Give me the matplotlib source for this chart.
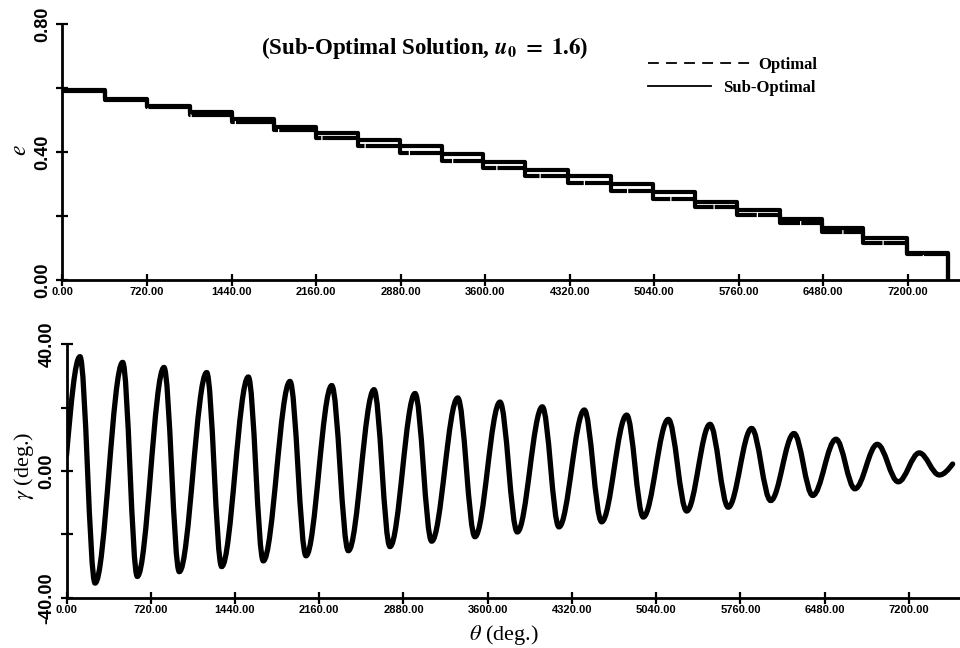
import numpy as np
import matplotlib
matplotlib.use('Agg')
import matplotlib.pyplot as plt
from matplotlib.path import Path
from matplotlib.patches import PathPatch
from matplotlib.lines import Line2D

plt.rcParams['mathtext.fontset'] = 'stix'
plt.rcParams['font.family'] = ['Liberation Serif', 'DejaVu Serif']

# --- e(theta): staircase, both runs switch at the same theta
step_theta = [0, 360, 720, 1085, 1445, 1800, 2160, 2515, 2875, 3230, 3580,
              3940, 4305, 4670, 5030, 5390, 5745, 6110, 6470, 6820, 7195]
theta_end = 7545
e_sub = [0.594, 0.567, 0.545, 0.524, 0.502, 0.478, 0.459, 0.437, 0.419, 0.395,
         0.370, 0.345, 0.324, 0.300, 0.274, 0.245, 0.219, 0.191, 0.163, 0.130, 0.083]
e_opt = [0.592, 0.564, 0.540, 0.516, 0.493, 0.468, 0.444, 0.419, 0.398, 0.373,
         0.350, 0.325, 0.303, 0.279, 0.254, 0.229, 0.204, 0.177, 0.151, 0.117, 0.081]

# --- gamma(theta): start, peaks/troughs, end
gam_theta = [0, 115, 244, 480, 605, 833, 964, 1198, 1326, 1554, 1682, 1910, 2047,
             2267, 2409, 2628, 2765, 2979, 3121, 3344, 3491, 3705, 3853, 4067,
             4209, 4426, 4574, 4788, 4930, 5144, 5301, 5500, 5656, 5856, 6019,
             6218, 6378, 6577, 6739, 6930, 7109, 7289, 7460, 7574]
gam_val = [5.0, 36.0, -35.3, 34.2, -33.2, 32.6, -31.7, 31.0, -30.1, 29.6, -28.3,
           28.2, -26.7, 26.9, -25.1, 25.6, -23.8, 24.4, -22.1, 23.0, -20.7, 21.7,
           -19.2, 20.2, -17.6, 19.2, -16.0, 17.6, -14.5, 16.25, -12.6, 14.7, -11.4,
           13.4, -9.3, 11.8, -7.7, 10.0, -5.6, 8.4, -3.4, 5.7, -1.25, 2.2]

x_ticks = np.arange(0, 7201, 720)
x_labels = ['%.2f' % t for t in x_ticks]


def smooth_path(xs, ys, k=0.36):
    # bezier pieces between the extrema, flat at each peak/trough
    verts = [(xs[0], ys[0])]
    codes = [Path.MOVETO]
    n = len(xs)
    for i in range(n - 1):
        x0, y0, x1, y1 = xs[i], ys[i], xs[i + 1], ys[i + 1]
        d = x1 - x0
        if i == 0:
            c1 = (x0 + d / 3, y0 + 0.52 * (y1 - y0))
        else:
            c1 = (x0 + k * d, y0)
        if i == n - 2:
            c2 = (x1 - d / 3, y1 - 0.52 * (y1 - y0))
        else:
            c2 = (x1 - k * d, y1)
        verts += [c1, c2, (x1, y1)]
        codes += [Path.CURVE4] * 3
    return Path(verts, codes)


def style_axes(ax, yticks, ylabels):
    for s in ['top', 'right']:
        ax.spines[s].set_visible(False)
    for s in ['left', 'bottom']:
        ax.spines[s].set_linewidth(2)
    ax.tick_params(direction='inout', length=8, width=1.6)
    ax.tick_params(axis='x', pad=1)
    ax.tick_params(axis='y', pad=4)
    ax.set_xticks(x_ticks, x_labels, fontsize=8, fontweight='bold',
                  family=['Liberation Sans', 'DejaVu Sans'])
    ax.set_yticks(yticks, ylabels, fontsize=13, fontweight='bold', rotation=90,
                  va='center', family=['Liberation Sans Narrow', 'Liberation Sans', 'DejaVu Sans'])


fig = plt.figure(figsize=(9.6, 6.48), dpi=100)
ax1 = fig.add_axes([0.0651, 0.5679, 0.9349, 0.3951])
ax2 = fig.add_axes([0.0693, 0.0772, 0.9307, 0.3919])

# top panel
xs = step_theta + [theta_end]
ax1.step(xs, e_opt + [0.0], where='post', color='black', lw=3.0,
         linestyle=(0, (12, 0.3)), solid_capstyle='butt')
ax1.step(xs, e_sub + [0.0], where='post', color='black', lw=3.0)
ax1.set_xlim(0, 7645)
ax1.set_ylim(0, 0.8)
style_axes(ax1, [0, 0.2, 0.4, 0.6, 0.8], ['0.00', '', '0.40', '', '0.80'])
ax1.set_ylabel('$e$', fontsize=17)
ax1.yaxis.set_label_coords(-0.035, 0.508)

ax1.text(0.404, 0.906,
         r'(Sub-Optimal Solution, $\mathbfit{u}_\mathbf{0}\ \mathbf{=}\ \mathbf{1.6}$)',
         transform=ax1.transAxes, ha='center', va='center',
         fontsize=16.5, fontweight='bold')

leg_font = {'family': 'Liberation Serif', 'weight': 'bold', 'size': 12}
h_opt = Line2D([], [], color='black', lw=1.3, linestyle=(0, (6, 4)))
h_sub = Line2D([], [], color='black', lw=1.3)
leg1 = ax1.legend([h_opt], ['Optimal'], loc='upper left', bbox_to_anchor=(0.652, 0.87),
                  frameon=False, prop=leg_font, handlelength=6.3, handletextpad=0.36,
                  borderpad=0, borderaxespad=0)
ax1.add_artist(leg1)
ax1.legend([h_sub], ['Sub-Optimal'], loc='upper left', bbox_to_anchor=(0.652, 0.783),
           frameon=False, prop=leg_font, handlelength=3.8, handletextpad=0.72,
           borderpad=0, borderaxespad=0)

# bottom panel
ax2.add_patch(PathPatch(smooth_path(gam_theta, gam_val), fill=False,
                        color='black', lw=3.8, capstyle='round'))
ax2.set_xlim(0, 7637)
ax2.set_ylim(-40, 40)
style_axes(ax2, [-40, -20, 0, 20, 40], ['-40.00', '', '0.00', '', '40.00'])
ax2.set_ylabel(r'$\gamma$ (deg.)', fontsize=16)
ax2.yaxis.set_label_coords(-0.034, 0.52)
ax2.set_xlabel(r'$\theta$ (deg.)', fontsize=16)
ax2.xaxis.set_label_coords(0.49, -0.098)

fig.savefig('out.png', dpi=100)
